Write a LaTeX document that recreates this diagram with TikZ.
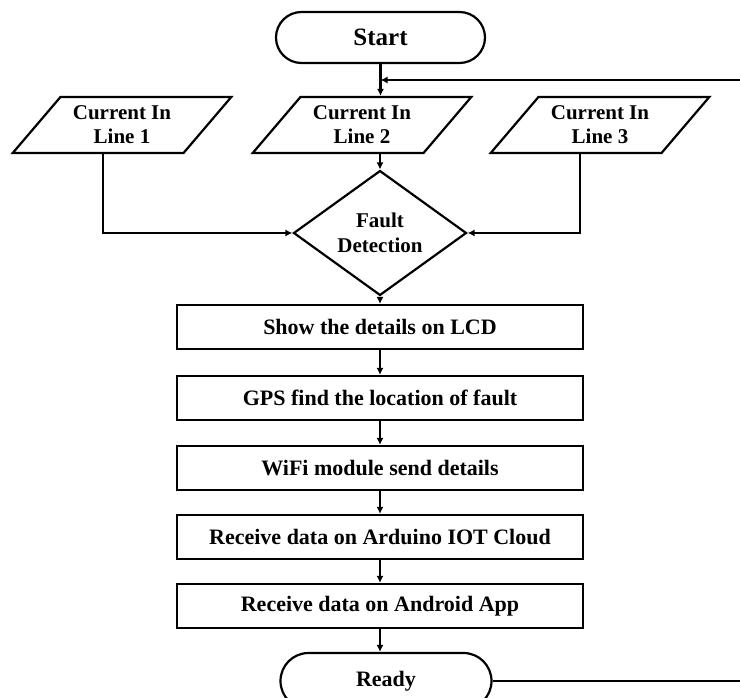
\documentclass[tikz,border=0pt]{standalone}
\usepackage{fontspec}
\setmainfont{Liberation Serif}
\usetikzlibrary{shapes.geometric,shapes.misc,arrows.meta}
\begin{document}
\begin{tikzpicture}[x=1pt,y=-1pt,
  font=\bfseries\fontsize{22}{25}\selectfont,
  shapeline/.style={draw=black,line width=2.2pt,fill=white},
  termbox/.style={shapeline,rounded rectangle,minimum width=209pt,minimum height=51pt,inner sep=0pt},
  iobox/.style={shapeline,trapezium,trapezium left angle=45,trapezium right angle=135,
    trapezium stretches=true,minimum width=219pt,minimum height=56pt,inner sep=0pt,
    align=center,font=\bfseries\fontsize{21}{24}\selectfont},
  decbox/.style={shapeline,diamond,minimum width=173pt,minimum height=89pt,inner sep=0pt,
    align=center,font=\bfseries\fontsize{21}{25}\selectfont},
  procbox/.style={shapeline,rectangle,minimum width=406pt,minimum height=44pt,inner sep=0pt},
  arr/.style={line width=2.4pt,-{Latex[length=7pt,width=7pt]}},
  ln/.style={line width=2.2pt}]
\useasboundingbox (0,0) rectangle (740,698);
\fill[white] (0,0) rectangle (740,698);

\node[termbox] (start) at (380.5,37.5) {\fontsize{25}{28}\selectfont Start};
\node[iobox] (p1) at (122,125) {Current In\\Line 1};
\node[iobox] (p2) at (362,125) {Current In\\Line 2};
\node[iobox] (p3) at (600,125) {Current In\\Line 3};
\node[decbox] (fd) at (380,233) {Fault\\Detection};
\node[procbox] (r1) at (380,327) {Show the details on LCD};
\node[procbox] (r2) at (380,398) {GPS find the location of fault};
\node[procbox] (r3) at (380,468) {WiFi module send details};
\node[procbox] (r4) at (380,537) {Receive data on Arduino IOT Cloud};
\node[procbox] (r5) at (380,606) {Receive data on Android App};
\node[termbox,minimum width=211pt,minimum height=56pt] (ready) at (386,681) {Ready};
\coordinate (fbin) at (742,80);
\coordinate (fbout) at (742,681);

\draw[arr] (start.south) -- (start.south |- p2.north);
\draw[arr] (fbin) -- (fbin -| start.south);
\draw[arr] (fd.north |- p2.south) -- (fd.north);
\draw[arr] ([xshift=-19pt]p1.south) |- (fd.west);
\draw[arr] ([xshift=-20pt]p3.south) |- (fd.east);
\draw[arr] (fd.south) -- (r1.north);
\draw[arr] (r1.south) -- (r2.north);
\draw[arr] (r2.south) -- (r3.north);
\draw[arr] (r3.south) -- (r4.north);
\draw[arr] (r4.south) -- (r5.north);
\draw[arr] (r5.south) -- (r5.south |- ready.north);
\draw[ln] (ready.east) -- (fbout);
\end{tikzpicture}
\end{document}
